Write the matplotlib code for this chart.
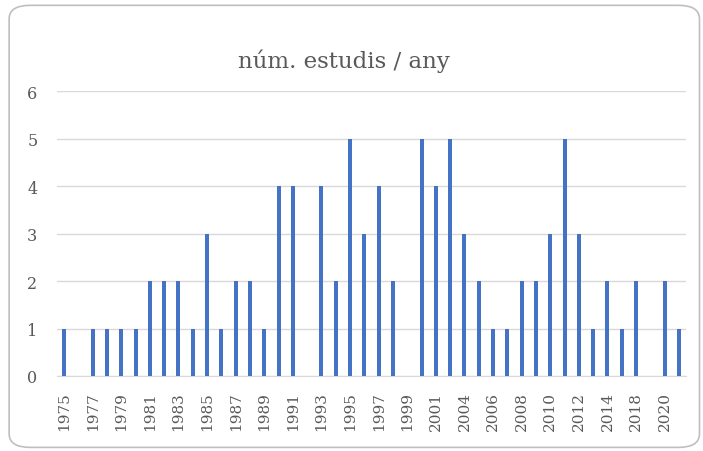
import matplotlib.pyplot as plt
from matplotlib.patches import FancyBboxPatch

# one category per year shown on the chart (labels only on every other one)
years = ["1975", "1976", "1977", "1978", "1979", "1980", "1981", "1982", "1983",
         "1984", "1985", "1986", "1987", "1988", "1989", "1990", "1991", "1992",
         "1993", "1994", "1995", "1996", "1997", "1998", "1999", "2000", "2001",
         "2003", "2004", "2005", "2006", "2007", "2008", "2009", "2010", "2011",
         "2012", "2013", "2014", "2016", "2018", "2019", "2020", "2021"]
studies = [1, 0, 1, 1, 1, 1, 2, 2, 2,
           1, 3, 1, 2, 2, 1, 4, 4, 0,
           4, 2, 5, 3, 4, 2, 0, 5, 4,
           5, 3, 2, 1, 1, 2, 2, 3, 5,
           3, 1, 2, 1, 2, 0, 2, 1]

text_color = "#595959"
serif = ["DejaVu Serif"]

fig = plt.figure(figsize=(7.03, 4.52), dpi=100)
ax = fig.add_axes([0.081, 0.166, 0.895, 0.630])

# rounded chart border
border = FancyBboxPatch((0.013, 0.008), 0.982, 0.978,
                        boxstyle="round,pad=0,rounding_size=0.03",
                        transform=fig.transFigure, facecolor="none",
                        edgecolor="#bfbfbf", linewidth=1.2)
fig.patches.append(border)

x = list(range(len(years)))
ax.bar(x, studies, width=0.28, color="#4472C4", zorder=3)

ax.set_xlim(-0.5, len(years) - 0.5)
ax.set_ylim(0, 6)
ax.set_yticks(range(7))
ax.yaxis.grid(True, color="#d9d9d9", linewidth=1)
ax.set_axisbelow(True)

ax.set_xticks(x[::2])
ax.set_xticklabels(years[::2], rotation=90, family=serif, fontsize=11,
                   color=text_color)
for lbl in ax.get_yticklabels():
    lbl.set_family(serif)
    lbl.set_fontsize(11.5)
    lbl.set_color(text_color)

ax.tick_params(axis="both", length=0)
ax.tick_params(axis="y", pad=14)
ax.tick_params(axis="x", pad=11)
for side in ["top", "right", "left"]:
    ax.spines[side].set_visible(False)
ax.spines["bottom"].set_color("#d9d9d9")

fig.text(0.489, 0.865, "núm. estudis / any", ha="center", va="center",
         family=serif, fontsize=16.5, color=text_color)

fig.savefig("out.png", dpi=100)
